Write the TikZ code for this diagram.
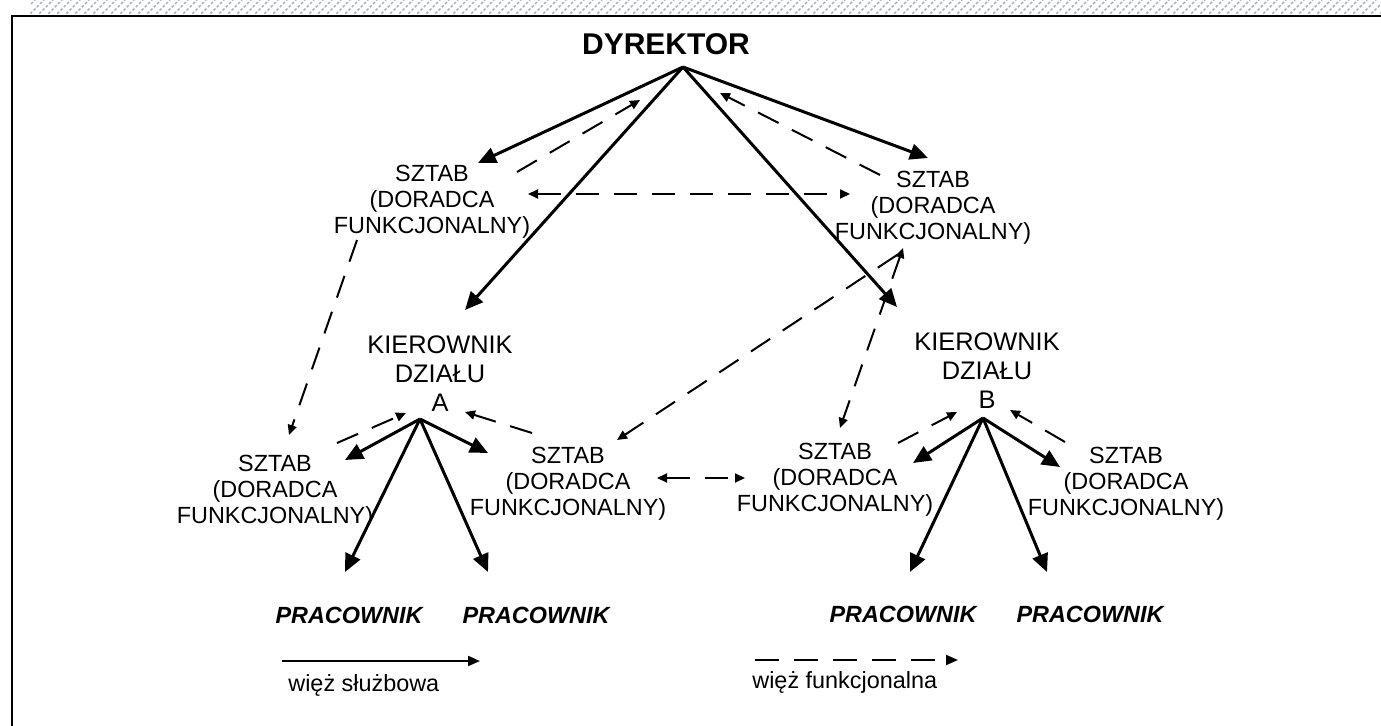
\documentclass[tikz,border=0pt]{standalone}
\usepackage{fontspec}
\setmainfont{Liberation Sans}
\usetikzlibrary{arrows.meta}

\definecolor{hatchgray}{RGB}{170,180,200}

\begin{document}
\begin{tikzpicture}[x=0.5pt,y=-0.5pt,
  solid arrow/.style={line width=1.5pt, -{Triangle[length=9pt,width=8pt]}},
  func arrow/.style={line width=1pt, dash pattern=on 11.5pt off 7.5pt,
                     -{Triangle[length=5pt,width=4.5pt]}},
  func both/.style={func arrow, {Triangle[length=5pt,width=4.5pt]}-{Triangle[length=5pt,width=4.5pt]}},
  head/.style={font=\bfseries\fontsize{15}{18}\selectfont, inner sep=0pt},
  staff/.style={align=center, font=\fontsize{11.7}{13}\selectfont, inner sep=0pt},
  boss/.style={align=center, font=\fontsize{12.7}{14.5}\selectfont, inner sep=0pt},
  worker/.style={font=\bfseries\itshape\fontsize{11.7}{13}\selectfont, inner sep=0pt},
  legendtext/.style={font=\fontsize{11.7}{13}\selectfont, inner sep=0pt, anchor=base west},
]
% page size
\useasboundingbox (0,0) rectangle (1381,726);

% hatched strip above the frame
\begin{scope}
  \clip (30,0) rectangle (1381,14);
  \foreach \i in {0,9,...,1400}
    \draw[hatchgray, line width=0.8pt, dash pattern=on 1.4pt off 0.9pt] (\i,17) -- (\i+17,0);
\end{scope}

% frame
\draw[line width=1.1pt] (12,726) -- (12,16) -- (1381,16);

% ---------- text nodes ----------
\node[head]  (dyr)  at (666,44)  {DYREKTOR};
\node[staff] (stTL) at (432,202) {SZTAB\\(DORADCA\\FUNKCJONALNY)};
\node[staff] (stTR) at (933,208) {SZTAB\\(DORADCA\\FUNKCJONALNY)};
\node[boss]  (kierA) at (440,374) {KIEROWNIK\\DZIAŁU\\A};
\node[boss]  (kierB) at (987,371) {KIEROWNIK\\DZIAŁU\\B};
\node[staff] (stAL) at (275,492) {SZTAB\\(DORADCA\\FUNKCJONALNY)};
\node[staff] (stAR) at (568,484) {SZTAB\\(DORADCA\\FUNKCJONALNY)};
\node[staff] (stBL) at (835,480) {SZTAB\\(DORADCA\\FUNKCJONALNY)};
\node[staff] (stBR) at (1126,484) {SZTAB\\(DORADCA\\FUNKCJONALNY)};
\node[worker] (p1) at (349,615)  {PRACOWNIK};
\node[worker] (p2) at (536,615)  {PRACOWNIK};
\node[worker] (p3) at (903,614)  {PRACOWNIK};
\node[worker] (p4) at (1090,614) {PRACOWNIK};

% ---------- connector end points ----------
\coordinate (dirApex) at (683,67);
\coordinate (aApex)   at (420,419);
\coordinate (bApex)   at (983,418);
% line links from the director
\coordinate (toTL)  at (478,163);
\coordinate (toTR)  at (928,158);
\coordinate (toKA)  at (465,310);
\coordinate (toKB)  at (897,307);
% functional links at the top
\coordinate (tlOut) at (517,172);
\coordinate (tlIn)  at (640,100);
\coordinate (trOut) at (880,175);
\coordinate (trIn)  at (720,93);
\coordinate (tlMid) at (528,194);
\coordinate (trMid) at (850,194);
\coordinate (tlLow) at (357,240);
\coordinate (alTop) at (289,435);
\coordinate (trLowA) at (897,255);
\coordinate (arTop)  at (617,440);
\coordinate (trLowB) at (903,248);
\coordinate (blTop)  at (840,428);
% department A
\coordinate (toAL) at (345,460);
\coordinate (toAR) at (488,453);
\coordinate (toP1) at (345,572);
\coordinate (toP2) at (488,572);
\coordinate (alOut) at (337,443);
\coordinate (alIn)  at (406,413);
\coordinate (arOut) at (532,433);
\coordinate (arIn)  at (465,412);
\coordinate (arSide) at (657,478);
\coordinate (blSide) at (745,478);
% department B
\coordinate (toBL) at (913,463);
\coordinate (toBR) at (1060,467);
\coordinate (toP3) at (910,572);
\coordinate (toP4) at (1047,572);
\coordinate (blOut) at (898,443);
\coordinate (blIn)  at (957,412);
\coordinate (brOut) at (1065,442);
\coordinate (brIn)  at (1010,410);

% ---------- line (solid) links ----------
\draw[solid arrow] (dirApex) -- (toTL);
\draw[solid arrow] (dirApex) -- (toTR);
\draw[solid arrow] (dirApex) -- (toKA);
\draw[solid arrow] (dirApex) -- (toKB);
\draw[solid arrow] (aApex) -- (toAL);
\draw[solid arrow] (aApex) -- (toAR);
\draw[solid arrow] (aApex) -- (toP1);
\draw[solid arrow] (aApex) -- (toP2);
\draw[solid arrow] (bApex) -- (toBL);
\draw[solid arrow] (bApex) -- (toBR);
\draw[solid arrow] (bApex) -- (toP3);
\draw[solid arrow] (bApex) -- (toP4);

% ---------- functional (dashed) links ----------
\draw[func arrow] (tlOut) -- (tlIn);
\draw[func arrow] (trOut) -- (trIn);
\draw[func both]  (tlMid) -- (trMid);
\draw[func arrow] (tlLow) -- (alTop);
\draw[func arrow] (trLowA) -- (arTop);
\draw[func both]  (trLowB) -- (blTop);
\draw[func arrow] (alOut) -- (alIn);
\draw[func arrow] (arOut) -- (arIn);
\draw[func both]  (arSide) -- (blSide);
\draw[func arrow] (blOut) -- (blIn);
\draw[func arrow] (brOut) -- (brIn);

% ---------- legend ----------
\coordinate (lgSolidA) at (282,661);
\coordinate (lgSolidB) at (480,661);
\coordinate (lgDashA)  at (755,660);
\coordinate (lgDashB)  at (958,660);
\draw[line width=1pt, -{Triangle[length=6pt,width=5pt]}] (lgSolidA) -- (lgSolidB);
\draw[line width=1pt, dash pattern=on 12pt off 7.5pt, -{Triangle[length=6pt,width=5pt]}] (lgDashA) -- (lgDashB);
\node[legendtext] (lgSolidTxt) at (288,691) {więż służbowa};
\node[legendtext] (lgDashTxt)  at (752,688) {więż funkcjonalna};
\end{tikzpicture}
\end{document}
